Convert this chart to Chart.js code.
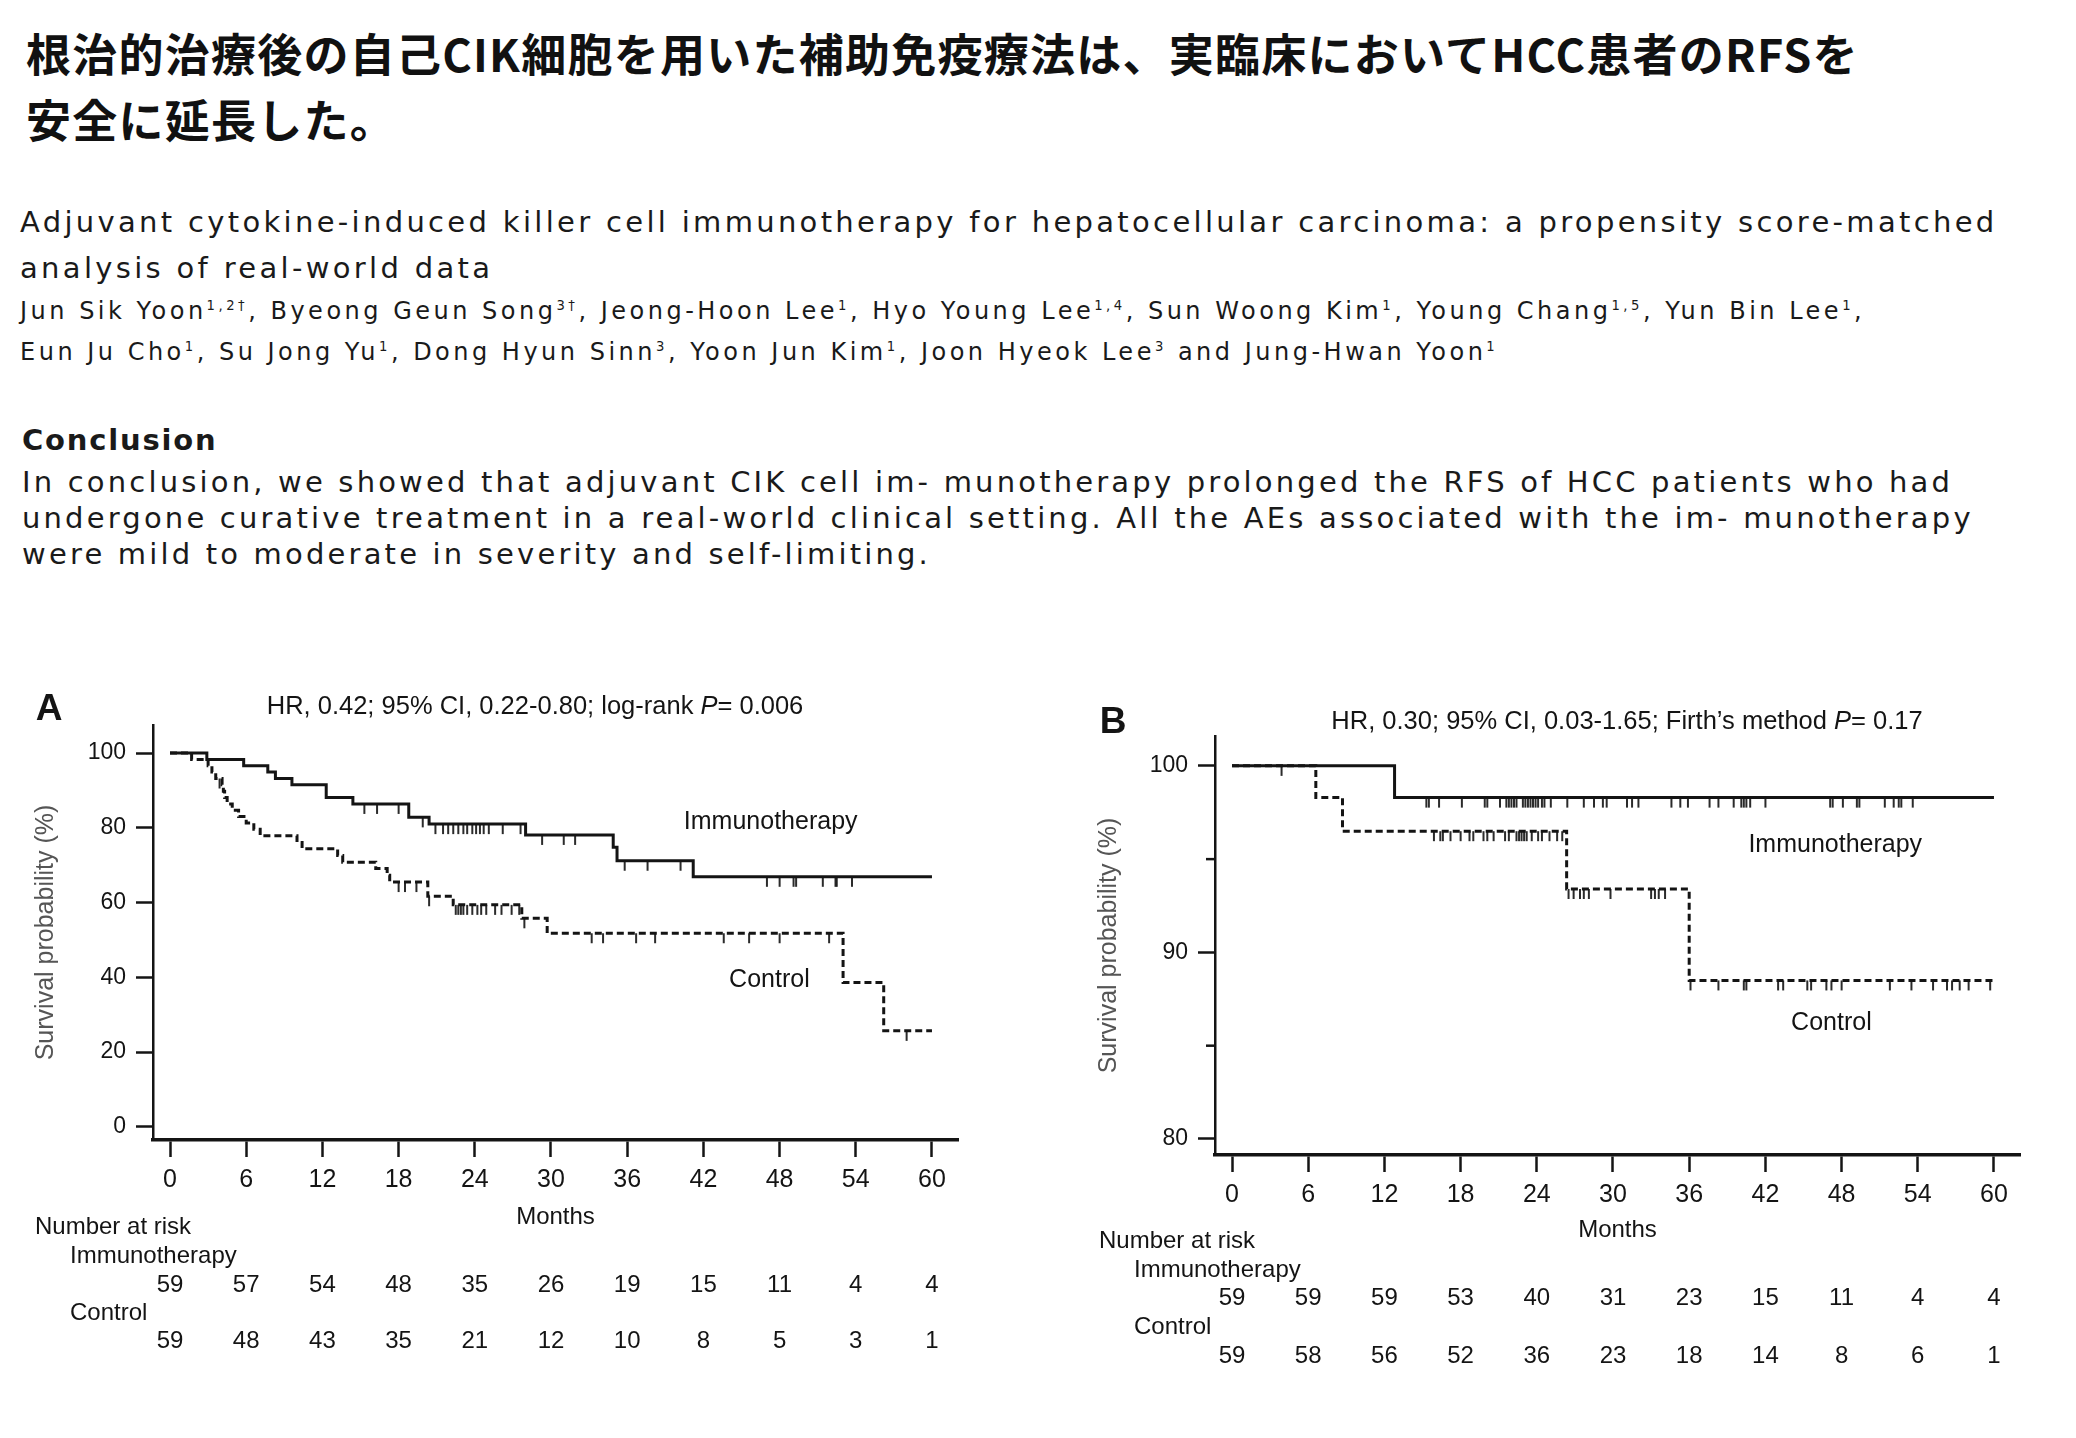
<!DOCTYPE html>
<html><head><meta charset="utf-8">
<script src="https://cdn.jsdelivr.net/npm/chart.js@4.4.1/dist/chart.umd.min.js"></script>
<style>
html,body{margin:0;padding:0;background:#fff}
body{width:2076px;height:1438px;position:relative;overflow:hidden;font-family:"DejaVu Sans","Noto Sans CJK JP",sans-serif;color:#1a1a1a}
.t{position:absolute;white-space:nowrap}
.t div{white-space:nowrap}
#jp{left:26px;top:20px;font-family:"Noto Sans CJK JP",sans-serif;font-size:45px;font-weight:700;line-height:66px;color:#111}
#ptitle{left:20px;top:199px;font-size:29px;line-height:46px}
#authors{left:20px;top:291px;font-size:24px;line-height:41px}
#concH{left:22px;top:422px;font-size:29px;font-weight:700;line-height:36px;letter-spacing:1.8px}
#conc{left:22px;top:464px;font-size:29px;line-height:36px}
sup{font-size:0.55em;vertical-align:0.7em;line-height:0}
canvas{position:absolute}
</style></head><body>
<div class="t" id="jp"><div class="fit" data-w="1833">根治的治療後の自己CIK細胞を用いた補助免疫療法は、実臨床においてHCC患者のRFSを</div><div>安全に延長した。</div></div>
<div class="t" id="ptitle"><div class="fit" data-w="1978">Adjuvant cytokine-induced killer cell immunotherapy for hepatocellular carcinoma: a propensity score-matched</div><div>analysis of real-world data</div></div>
<div class="t" id="authors"><div class="fit" data-w="1845">Jun Sik Yoon<sup>1,2†</sup>, Byeong Geun Song<sup>3†</sup>, Jeong-Hoon Lee<sup>1</sup>, Hyo Young Lee<sup>1,4</sup>, Sun Woong Kim<sup>1</sup>, Young Chang<sup>1,5</sup>, Yun Bin Lee<sup>1</sup>,</div><div>Eun Ju Cho<sup>1</sup>, Su Jong Yu<sup>1</sup>, Dong Hyun Sinn<sup>3</sup>, Yoon Jun Kim<sup>1</sup>, Joon Hyeok Lee<sup>3</sup> and Jung-Hwan Yoon<sup>1</sup></div></div>
<div class="t" id="concH">Conclusion</div>
<div class="t" id="conc"><div class="fit" data-w="1936">In conclusion, we showed that adjuvant CIK cell im- munotherapy prolonged the RFS of HCC patients who had</div><div>undergone curative treatment in a real-world clinical setting. All the AEs associated with the im- munotherapy</div><div>were mild to moderate in severity and self-limiting.</div></div>
<canvas id="cA" width="1040" height="700" style="left:0;top:690px"></canvas>
<canvas id="cB" width="1016" height="720" style="left:1060px;top:690px"></canvas>
<script>
// ---------- data ----------
const monthTicks = [0, 6, 12, 18, 24, 30, 36, 42, 48, 54, 60];
const aYTicks = [0, 20, 40, 60, 80, 100];
const bYTicks = [80, 90, 100];
const bYMinor = [85, 95];

// Panel A (Kaplan-Meier, RFS)
const aImmT = [0, 2.9, 5.8, 7.7, 8.3, 9.6, 12.3, 14.4, 18.8, 20.4, 28.0, 34.9, 35.2, 41.2, 60];
const aImmS = [100, 98.3, 96.6, 94.9, 93.2, 91.5, 88.1, 86.4, 82.8, 81.0, 78.1, 74.8, 71.2, 66.9, 66.9];
const aImmCens = [15.3, 16.3, 18.0, 19.9, 20.9, 21.5, 21.9, 22.3, 22.7, 23.1, 23.4, 23.8, 24.1, 24.4, 24.7, 25.1, 26.2, 27.6, 29.3, 31.0, 31.9, 35.8, 37.6, 40.2, 47.0, 48.0, 49.1, 49.3, 51.4, 52.4, 52.5, 53.7];
const aCtlT = [0, 1.7, 3.0, 3.3, 3.6, 4.1, 4.2, 4.3, 4.5, 4.9, 5.4, 6.0, 6.6, 7.1, 10.0, 10.4, 13.2, 13.6, 16.2, 17.1, 17.3, 20.3, 22.3, 27.7, 29.7, 53.0, 56.2, 60];
const aCtlS = [100, 98.3, 96.6, 94.9, 93.2, 91.5, 89.8, 88.1, 86.4, 84.7, 83.0, 81.3, 79.6, 77.9, 76.1, 74.4, 72.6, 70.8, 69.1, 67.3, 65.5, 61.7, 59.4, 55.8, 51.8, 38.6, 25.7, 25.7];
const aCtlCens = [3.9, 18.0, 18.5, 19.4, 20.4, 22.5, 22.7, 22.9, 23.1, 23.4, 23.8, 24.2, 24.5, 24.9, 25.6, 26.1, 26.9, 27.5, 27.9, 33.2, 34.1, 36.7, 38.2, 43.6, 45.6, 48.0, 51.9, 58.0];
const aRiskImm = [59, 57, 54, 48, 35, 26, 19, 15, 11, 4, 4];
const aRiskCtl = [59, 48, 43, 35, 21, 12, 10, 8, 5, 3, 1];

// Panel B
const bImmT = [0, 12.8, 60];
const bImmS = [100, 98.3, 98.3];
const bImmCens = [3.9, 15.3, 15.5, 16.3, 18.1, 19.9, 20.1, 21.1, 21.6, 21.8, 22.0, 22.2, 22.4, 22.9, 23.1, 23.3, 23.5, 23.7, 23.9, 24.1, 24.4, 24.6, 25.1, 26.4, 27.7, 28.5, 29.2, 29.5, 31.1, 31.5, 32.0, 34.6, 35.3, 35.9, 37.6, 38.3, 39.5, 40.1, 40.3, 40.5, 40.8, 42.0, 47.1, 47.3, 48.1, 49.2, 49.4, 51.4, 52.1, 52.5, 52.7, 53.6];
const bCtlT = [0, 6.6, 8.7, 26.35, 36.0, 60];
const bCtlS = [100, 98.3, 96.5, 93.4, 88.5, 88.5];
const bCtlCens = [15.9, 16.4, 16.6, 17.2, 18.0, 18.7, 19.0, 19.8, 20.1, 20.6, 21.5, 21.8, 22.4, 22.6, 22.8, 23.0, 23.2, 23.6, 24.1, 24.4, 25.0, 25.6, 26.0, 26.5, 26.9, 27.4, 27.7, 28.1, 29.8, 33.0, 33.3, 33.6, 34.1, 36.1, 38.3, 40.3, 40.5, 43.0, 43.4, 45.3, 45.6, 46.8, 47.2, 48.0, 51.8, 53.5, 55.2, 56.3, 56.7, 57.3, 58.0, 59.7];
const bRiskImm = [59, 59, 59, 53, 40, 31, 23, 15, 11, 4, 4];
const bRiskCtl = [59, 58, 56, 52, 36, 23, 18, 14, 8, 6, 1];

// ---------- helpers ----------
const FAM = '"Liberation Sans", Arial, Helvetica, sans-serif';
const INK = '#141414';
function stepAt(T, S, t) { let v = S[0]; for (let i = 0; i < T.length; i++) { if (T[i] <= t) v = S[i]; } return v; }
function tickImage(len, w) {
  const c = document.createElement('canvas'); c.width = 6; c.height = len * 2 + 2;
  const g = c.getContext('2d'); g.fillStyle = INK; g.fillRect(3 - w / 2, len + 1, w, len); return c;
}
const censorMark = tickImage(10, 1.8);
function km(T, S, cens, dash) {
  return [
    { data: T.map((t, i) => ({ x: t, y: S[i] })), stepped: 'before', borderColor: INK, borderWidth: 3,
      borderDash: dash, borderCapStyle: 'butt', borderJoinStyle: 'miter', pointRadius: 0, fill: false, showLine: true },
    { data: cens.map(t => ({ x: t, y: stepAt(T, S, t) })), showLine: false, pointStyle: censorMark, pointRadius: 3 }
  ];
}

const overlay = {
  id: 'overlay',
  afterDraw(chart, args, o) {
    const ctx = chart.ctx, xs = chart.scales.x, ys = chart.scales.y, ca = chart.chartArea;
    ctx.save();
    ctx.fillStyle = INK; ctx.strokeStyle = INK;
    ctx.font = 'bold 37px ' + FAM; ctx.textAlign = 'center'; ctx.textBaseline = 'middle';
    ctx.fillText(o.letter, o.letterX, o.letterY);
    const f = o.titleSize + 'px ' + FAM, fi = 'italic ' + o.titleSize + 'px ' + FAM;
    ctx.font = f; const w1 = ctx.measureText(o.title[0]).width, w3 = ctx.measureText(o.title[2]).width;
    ctx.font = fi; const w2 = ctx.measureText(o.title[1]).width;
    let x = o.titleX - (w1 + w2 + w3) / 2;
    ctx.textAlign = 'left';
    ctx.font = f; ctx.fillText(o.title[0], x, o.titleY); x += w1;
    ctx.font = fi; ctx.fillText(o.title[1], x, o.titleY); x += w2;
    ctx.font = f; ctx.fillText(o.title[2], x, o.titleY);
    ctx.textAlign = 'center'; ctx.font = '25px ' + FAM;
    o.labels.forEach(l => ctx.fillText(l.text, xs.getPixelForValue(l.x), ys.getPixelForValue(l.y)));
    ctx.lineWidth = 2.5;
    (o.minor || []).forEach(v => { const y = ys.getPixelForValue(v); ctx.beginPath(); ctx.moveTo(ca.left - o.minorLen, y); ctx.lineTo(ca.left, y); ctx.stroke(); });
    ctx.font = '24px ' + FAM; ctx.textAlign = 'left';
    ctx.fillText('Number at risk', o.riskX0, o.riskY[0]);
    ctx.fillText('Immunotherapy', o.riskX1, o.riskY[1]);
    ctx.fillText('Control', o.riskX1, o.riskY[3]);
    ctx.textAlign = 'center';
    monthTicks.forEach((t, i) => {
      const px = xs.getPixelForValue(t);
      ctx.fillText(String(o.riskImm[i]), px, o.riskY[2]);
      ctx.fillText(String(o.riskCtl[i]), px, o.riskY[4]);
    });
    ctx.restore();
  }
};

function makeChart(id, cfg) {
  return new Chart(document.getElementById(id), {
    type: 'line',
    data: { datasets: [...km(cfg.immT, cfg.immS, cfg.immC, []), ...km(cfg.ctlT, cfg.ctlS, cfg.ctlC, [7, 4])] },
    options: {
      responsive: false, animation: false, devicePixelRatio: 1,
      layout: { padding: cfg.pad },
      plugins: { legend: { display: false }, title: { display: false }, tooltip: { enabled: false }, overlay: cfg.overlay },
      scales: {
        x: {
          type: 'linear', min: cfg.xMin, max: cfg.xMax,
          afterBuildTicks: ax => { ax.ticks = monthTicks.map(v => ({ value: v })); },
          afterFit: ax => { ax.height = cfg.xH; },
          grid: { drawOnChartArea: false, drawTicks: true, tickLength: 17, tickWidth: 2.5, tickColor: INK },
          border: { display: true, color: INK, width: 3.5 },
          ticks: { font: { size: 25, family: FAM }, color: INK, padding: 8, maxRotation: 0, autoSkip: false },
          title: { display: true, text: 'Months', color: INK, font: { size: 24, family: FAM }, padding: { top: 0, bottom: 8 } }
        },
        y: {
          type: 'linear', min: cfg.yMin, max: cfg.yMax,
          afterBuildTicks: ax => { ax.ticks = cfg.yTicks.map(v => ({ value: v })); },
          afterFit: ax => { ax.width = cfg.yW; },
          grid: { drawOnChartArea: false, drawTicks: true, tickLength: 17, tickWidth: 2.5, tickColor: INK },
          border: { display: true, color: INK, width: 2.5 },
          ticks: { font: { size: 23, family: FAM }, color: INK, padding: 10 },
          title: { display: true, text: 'Survival probability (%)', color: '#555', font: { size: 25, family: FAM }, padding: { top: cfg.yTitlePad, bottom: 0 } }
        }
      }
    },
    plugins: [overlay]
  });
}

makeChart('cA', {
  immT: aImmT, immS: aImmS, immC: aImmCens, ctlT: aCtlT, ctlS: aCtlS, ctlC: aCtlCens,
  pad: { left: 0, top: 35, right: 82, bottom: 150 }, xH: 100, yW: 153, yTitlePad: 31,
  xMin: -1.34, xMax: 62.05, yMin: -3.5, yMax: 107.5, yTicks: aYTicks,
  overlay: {
    letter: 'A', letterX: 49, letterY: 20,
    title: ['HR, 0.42; 95% CI, 0.22-0.80; log-rank ', 'P', '= 0.006'], titleX: 535, titleY: 17, titleSize: 25.5,
    labels: [{ text: 'Immunotherapy', x: 47.3, y: 81.6 }, { text: 'Control', x: 47.2, y: 39.3 }],
    riskX0: 35, riskX1: 70, riskY: [537, 566, 595, 623, 651], riskImm: aRiskImm, riskCtl: aRiskCtl
  }
});
makeChart('cB', {
  immT: bImmT, immS: bImmS, immC: bImmCens, ctlT: bCtlT, ctlS: bCtlS, ctlC: bCtlCens,
  pad: { left: 0, top: 46, right: 56, bottom: 157 }, xH: 98, yW: 155, yTitlePad: 34,
  xMin: -1.34, xMax: 62.05, yMin: 79.14, yMax: 101.6, yTicks: bYTicks,
  overlay: {
    letter: 'B', letterX: 53, letterY: 33,
    title: ['HR, 0.30; 95% CI, 0.03-1.65; Firth\u2019s method ', 'P', '= 0.17'], titleX: 567, titleY: 32, titleSize: 25.5,
    labels: [{ text: 'Immunotherapy', x: 47.5, y: 95.76 }, { text: 'Control', x: 47.2, y: 86.2 }],
    minor: bYMinor, minorLen: 9,
    riskX0: 39, riskX1: 74, riskY: [551, 580, 608, 637, 666], riskImm: bRiskImm, riskCtl: bRiskCtl
  }
});

// fit the long text lines to the reference line widths
document.querySelectorAll('.t').forEach(block => {
  const fitEl = block.querySelector('.fit'); if (!fitEl) return;
  fitEl.style.letterSpacing = '0px';
  const w0 = fitEl.getBoundingClientRect().width;
  const n = fitEl.textContent.length;
  const ls = (parseFloat(fitEl.dataset.w) - w0) / n;
  block.style.letterSpacing = ls.toFixed(2) + 'px';
  fitEl.style.letterSpacing = '';
});
</script>
</body></html>
